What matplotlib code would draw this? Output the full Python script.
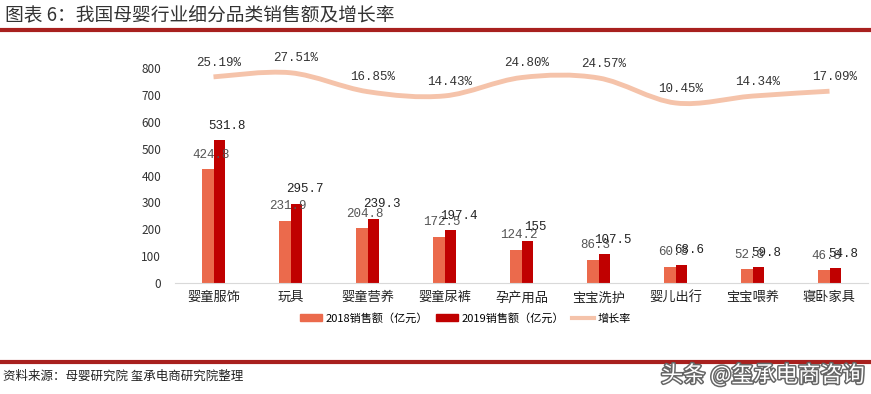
import numpy as np
import matplotlib
matplotlib.use("Agg")
import matplotlib.pyplot as plt
from matplotlib.path import Path
from matplotlib.patches import PathPatch, Patch
from matplotlib.lines import Line2D
import matplotlib.patheffects as pe

plt.rcParams['font.family'] = ['Noto Sans CJK SC', 'DejaVu Sans']

categories = ['婴童服饰', '玩具', '婴童营养', '婴童尿裤', '孕产用品', '宝宝洗护', '婴儿出行', '宝宝喂养', '寝卧家具']
sales_2018 = [424.8, 231.9, 204.8, 172.5, 124.2, 86.3, 60.3, 52.3, 46.8]
sales_2019 = [531.8, 295.7, 239.3, 197.4, 155, 107.5, 68.6, 59.8, 54.8]
growth = [25.19, 27.51, 16.85, 14.43, 24.80, 24.57, 10.45, 14.34, 17.09]

c2018 = '#EB6A4C'
c2019 = '#C00000'
cline = '#F5C3AA'
num_font = ['Liberation Mono', 'DejaVu Sans']

fig = plt.figure(figsize=(8.71, 3.94), dpi=100)
fig.patch.set_facecolor('white')

# title and rules
fig.text(0.006, 0.962, '图表 6：我国母婴行业细分品类销售额及增长率', fontsize=13.5,
         color='#333333', ha='left', va='center', style='italic', fontweight='light')
fig.add_artist(Line2D([0, 1], [0.925, 0.925], color='#A8201E', lw=3))
fig.add_artist(Line2D([0, 1], [0.080, 0.080], color='#A8201E', lw=3))
fig.text(0.004, 0.044, '资料来源：母婴研究院 玺承电商研究院整理', fontsize=9,
         color='#222222', ha='left', va='center', style='italic')
fig.text(0.993, 0.048, '头条 @玺承电商咨询', fontsize=16, color='white',
         ha='right', va='center',
         path_effects=[pe.withStroke(linewidth=2.2, foreground='#666666')])

ax = fig.add_axes([175 / 871, 0.2817, 693 / 871, 0.5457])
x = np.arange(len(categories))
w = 0.145
ax.bar(x - w / 2, sales_2018, w, color=c2018, zorder=2)
ax.bar(x + w / 2, sales_2019, w, color=c2019, zorder=2)
ax.set_xlim(-0.5, len(categories) - 0.5)
ax.set_ylim(0, 800)
ax.set_yticks(range(0, 801, 100))
ax.tick_params(axis='y', length=0, labelsize=8.5, pad=10, labelcolor='#333333')
ax.tick_params(axis='x', length=0, labelsize=9.5, pad=6, labelcolor='#222222')
ax.set_xticks(x)
ax.set_xticklabels(categories)
for s in ['top', 'right', 'left']:
    ax.spines[s].set_visible(False)
ax.spines['bottom'].set_color('#D9D9D9')

for xi, v in zip(x, sales_2018):
    ax.annotate(f'{v:g}', (xi - w / 2, v), xytext=(2, 6), textcoords='offset points',
                ha='center', va='bottom', fontsize=9, color='#555555', family=num_font)
for xi, v in zip(x, sales_2019):
    ax.annotate(f'{v:g}', (xi + w / 2, v), xytext=(6, 6), textcoords='offset points',
                ha='center', va='bottom', fontsize=9, color='#222222', family=num_font)

# growth rate on hidden secondary axis, drawn as a smoothed curve
ax2 = ax.twinx()
ax2.set_ylim(-91.3, 30.2)
ax2.axis('off')
pts = np.column_stack([x, growth]).astype(float)
verts = [tuple(pts[0])]
codes = [Path.MOVETO]
n = len(pts)
for i in range(n - 1):
    p0 = pts[max(i - 1, 0)]
    p1 = pts[i]
    p2 = pts[i + 1]
    p3 = pts[min(i + 2, n - 1)]
    c1 = p1 + (p2 - p0) / 6
    c2 = p2 - (p3 - p1) / 6
    verts += [tuple(c1), tuple(c2), tuple(p2)]
    codes += [Path.CURVE4] * 3
ax2.add_patch(PathPatch(Path(verts, codes), facecolor='none', edgecolor=cline,
                        lw=3.5, capstyle='butt', zorder=3))
for xi, g in zip(x, growth):
    ax2.annotate(f'{g:.2f}%', (xi, g), xytext=(4, 6), textcoords='offset points',
                 ha='center', va='bottom', fontsize=9, color='#333333',
                 family=num_font, annotation_clip=False)

handles = [Patch(color=c2018), Patch(color=c2019), Line2D([], [], color=cline, lw=3)]
labels = ['2018销售额（亿元）', '2019销售额（亿元）', '增长率']
fig.legend(handles, labels, loc='center', bbox_to_anchor=(0.534, 0.192), ncol=3,
           frameon=False, fontsize=8, handlelength=2.0, handleheight=0.55,
           columnspacing=0.7, handletextpad=0.3)

fig.savefig('out.png', dpi=100, facecolor='white')
